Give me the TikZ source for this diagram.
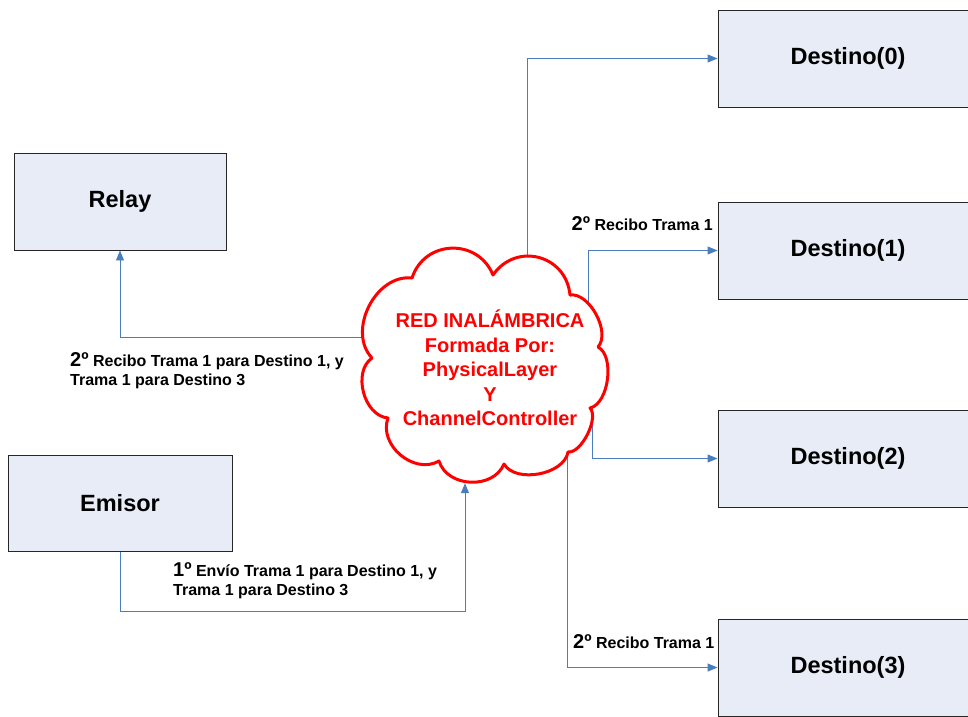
\documentclass[tikz,border=0pt]{standalone}
\usepackage{fontspec}
\setmainfont{Liberation Sans}
\usetikzlibrary{arrows.meta}
\definecolor{boxfill}{HTML}{E7ECF7}
\definecolor{linkblue}{HTML}{4A7EBB}
\pgfdeclarelayer{background}
\pgfsetlayers{background,main}
\newcommand\ordnum[1]{{\fontsize{20}{18.3}\selectfont #1º}}

\begin{document}
\begin{tikzpicture}[x=1pt,y=-1pt,
  box/.style={draw=black!85, line width=0.9pt, fill=boxfill, inner sep=0pt,
    font=\fontsize{23.5}{28}\selectfont\bfseries},
  conn/.style={draw=linkblue, line width=0.9pt, -{Triangle[length=10pt,width=8pt]}},
  lbl/.style={inner sep=0pt, align=left, font=\fontsize{16}{18.3}\selectfont\bfseries},
  cloudtext/.style={inner sep=0pt, align=center, text=red,
    font=\fontsize{20}{24.4}\selectfont\bfseries},
  cloudline/.style={draw=red, line width=3pt, fill=white, line join=round},
  puff/.style={bend left=70, looseness=#1}]

\useasboundingbox (0,0) rectangle (968,716);

% boxes
\node[box, minimum width=212, minimum height=97] (relay) at (120,201.5) {Relay};
\node[box, minimum width=224, minimum height=96] (emisor) at (120,503) {Emisor};
\node[box, minimum width=260, minimum height=97] (d0) at (848,58.5) {Destino(0)};
\node[box, minimum width=260, minimum height=97] (d1) at (848,250.5) {Destino(1)};
\node[box, minimum width=260, minimum height=97] (d2) at (848,458.5) {Destino(2)};
\node[box, minimum width=260, minimum height=97] (d3) at (848,667.5) {Destino(3)};

% the wireless network: a cloud of puffs between cusp points
\node[inner sep=0pt, minimum width=245, minimum height=235] (net) at (484.5,365.5) {};
\coordinate (k1) at (412,278);
\coordinate (k2) at (493,275);
\coordinate (k3) at (570,295);
\coordinate (k4) at (598,347);
\coordinate (k5) at (590,408);
\coordinate (k6) at (568,452);
\coordinate (k7) at (504,464);
\coordinate (k8) at (439,461);
\coordinate (k9) at (388,418);
\coordinate (k10) at (372,358);
\draw[cloudline] (k1) to[puff=1.27] (k2) to[puff=1.3] (k3) to[puff=0.85] (k4)
  to[puff=0.8] (k5) to[puff=0.7] (k6) to[puff=0.9] (k7) to[puff=1.1] (k8)
  to[puff=1.1] (k9) to[puff=1.0] (k10) to[puff=1.05] (k1) -- cycle;
\node[cloudtext] (nettext) at (490,368)
  {RED INALÁMBRICA\\Formada Por:\\PhysicalLayer\\Y\\ChannelController};

% connectors
\begin{pgfonlayer}{background}
\draw[conn] ([yshift=28.5pt]net.center) -| (relay.south);
\draw[conn] (emisor.south) -- ++(0,60) -| ([xshift=-19.5pt]net.south);
\draw[conn] ([xshift=42.5pt]net.center) |- (d0.west);
\draw[conn] ([xshift=103.5pt]net.center) |- (d1.west);
\draw[conn] ([xshift=107.5pt]net.center) |- (d2.west);
\draw[conn] ([xshift=82.5pt]net.center) |- (d3.west);
\end{pgfonlayer}

% connector labels
\node[lbl, anchor=base west] (lrelay) at (70,385)
  {\ordnum{2} Recibo Trama 1 para Destino 1, y\\Trama 1 para Destino 3};
\node[lbl, anchor=base west] (lemisor) at (173,595)
  {\ordnum{1} Envío Trama 1 para Destino 1, y\\Trama 1 para Destino 3};
\node[lbl, anchor=base west] (ld1) at (571.5,230.7) {\ordnum{2} Recibo Trama 1};
\node[lbl, anchor=base west] (ld3) at (573,648) {\ordnum{2} Recibo Trama 1};
\end{tikzpicture}
\end{document}
